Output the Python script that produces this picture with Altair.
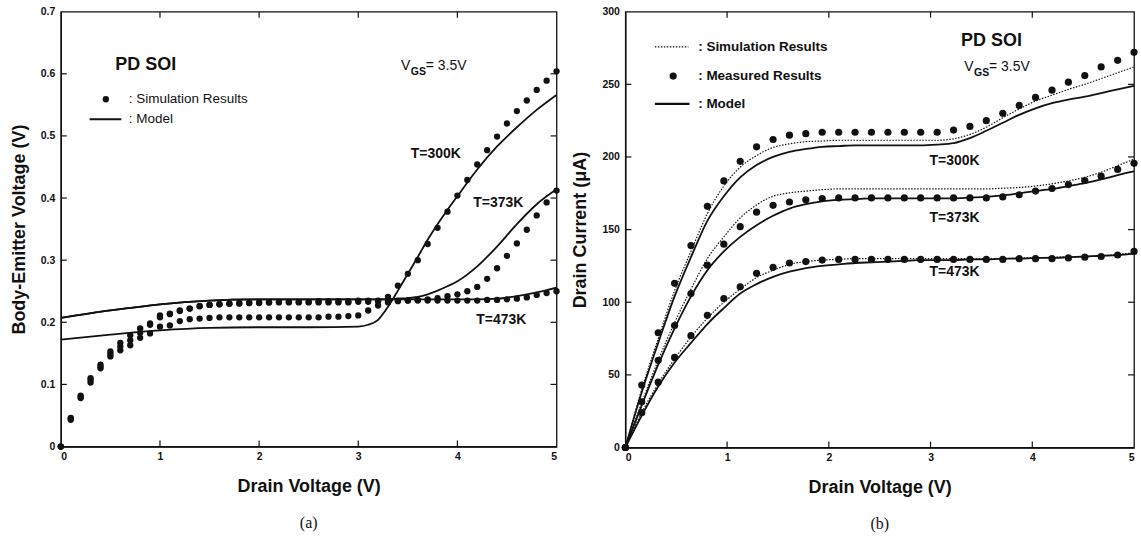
import altair as alt
import pandas as pd

# ---------------- panel (a): body-emitter voltage ----------------
a_v = [0.0, 0.1, 0.2, 0.3, 0.4, 0.5, 0.6, 0.7, 0.8, 0.9,
       1.0, 1.1, 1.2, 1.3, 1.4, 1.5, 1.6, 1.7, 1.8, 1.9,
       2.0, 2.1, 2.2, 2.3, 2.4, 2.5, 2.6, 2.7, 2.8, 2.9,
       3.0, 3.1, 3.2, 3.3, 3.4, 3.5, 3.6, 3.7, 3.8, 3.9,
       4.0, 4.1, 4.2, 4.3, 4.4, 4.5, 4.6, 4.7, 4.8, 4.9, 5.0]
a_sim_300 = [0.0, 0.046, 0.082, 0.110, 0.132, 0.153, 0.167, 0.179, 0.190, 0.198,
             0.211, 0.214, 0.219, 0.222, 0.226, 0.228,
             0.229, 0.230, 0.230, 0.231, 0.231, 0.232, 0.232, 0.232, 0.232, 0.232,
             0.232, 0.232, 0.232, 0.232, 0.233, 0.233, 0.234,
             0.241, 0.259, 0.278, 0.300, 0.326, 0.352, 0.378, 0.404, 0.429, 0.454,
             0.477, 0.499, 0.520, 0.540, 0.557, 0.574, 0.589, 0.604]
a_sim_373 = [0.0, 0.043, 0.078, 0.103, 0.126, 0.145, 0.155, 0.163, 0.175, 0.182,
             0.193, 0.195, 0.202, 0.205, 0.206, 0.207,
             0.208, 0.208, 0.208, 0.208, 0.208, 0.208, 0.208, 0.208, 0.208, 0.208,
             0.208, 0.209, 0.209, 0.210, 0.211,
             0.219, 0.227, 0.232, 0.234, 0.235, 0.236, 0.237, 0.239, 0.242, 0.245,
             0.250, 0.257, 0.270, 0.287, 0.307, 0.327, 0.349, 0.372, 0.393, 0.412]
a_sim_473 = [0.0, 0.045, 0.080, 0.107, 0.129, 0.149, 0.161, 0.171, 0.183, 0.196,
             0.208, 0.213, 0.218, 0.222, 0.226, 0.228,
             0.229, 0.230, 0.231, 0.231, 0.232, 0.232, 0.233, 0.233, 0.233, 0.233,
             0.234, 0.234, 0.234, 0.234, 0.235, 0.235, 0.235,
             0.235, 0.235, 0.235, 0.235, 0.235, 0.235, 0.235, 0.235,
             0.235, 0.235, 0.236, 0.236, 0.237, 0.238, 0.240, 0.244, 0.247, 0.250]
a_model_v = [0.0, 0.5, 1.0, 1.5, 2.0, 2.5, 3.0, 3.1, 3.2, 3.3, 3.4, 3.5,
             3.6, 3.7, 3.8, 3.9, 4.0, 4.2, 4.4, 4.6, 4.8, 5.0]
a_model_300 = [0.172, 0.180, 0.187, 0.191, 0.192, 0.192, 0.193, 0.196, 0.204, 0.225, 0.251,
               0.278, 0.305, 0.333, 0.358, 0.381, 0.403, 0.446, 0.483, 0.514, 0.542, 0.566]
a_model_373 = [0.207, 0.219, 0.229, 0.235, 0.237, 0.237, 0.237, 0.237, 0.237, 0.237, 0.238,
               0.239, 0.241, 0.245, 0.251, 0.258, 0.266, 0.290, 0.322, 0.358, 0.390, 0.414]
a_model_473 = [0.207, 0.219, 0.229, 0.235, 0.237, 0.237, 0.237, 0.237, 0.237, 0.237, 0.237,
               0.237, 0.237, 0.237, 0.237, 0.237, 0.237, 0.237, 0.238, 0.242, 0.248, 0.256]

# ---------------- panel (b): drain current ----------------
b_v = [0.0, 0.161, 0.323, 0.484, 0.645, 0.806, 0.968, 1.129, 1.290, 1.452, 1.613,
       1.774, 1.935, 2.097, 2.258, 2.419, 2.581, 2.742, 2.903, 3.065, 3.226, 3.387,
       3.548, 3.710, 3.871, 4.032, 4.194, 4.355, 4.516, 4.677, 4.839, 5.0]
b_meas_300 = [0, 43, 79, 113, 139, 166, 183.5, 197, 207, 212, 215, 216, 217, 217, 217, 217,
              217, 217, 217, 217, 218.5, 221, 225, 230, 235.5, 241, 246, 251.5, 256, 262, 266.5, 272]
b_sim_300 = [0, 40, 75, 108, 135, 161, 180, 193, 201, 206.5, 209, 210.5, 211, 211.5, 211.5, 211.5,
             211.5, 211.5, 211.5, 211.5, 212.5, 215.5, 220.5, 227, 233, 238.5, 242.5, 246.5, 250, 254, 258, 262]
b_model_300 = [0, 38, 72, 104, 131, 156, 173, 186, 194.5, 200, 203.5, 205.5, 207, 207.5, 208, 208,
               208, 208, 208, 208.5, 209.5, 213, 218, 223.5, 229, 233.5, 237, 239.5, 241.5, 244, 246.5, 249]
b_meas_373 = [0, 31.5, 60, 84, 106, 125.5, 140, 152, 162, 166.7, 169, 170.5, 171.4, 171.8, 171.8, 171.8,
              171.8, 171.8, 171.8, 171.8, 171.8, 171.8, 171.8, 172.5, 174, 176.5, 178.3, 181, 183.8, 186.8, 191.4, 195.6]
b_sim_373 = [0, 31, 60, 86, 109, 130, 145, 158, 167, 173, 175.3, 176.5, 177.5, 178, 178, 178,
             178, 178, 178, 178, 178, 178, 178, 178.5, 179, 180, 181.5, 183.5, 186, 189.5, 194, 198.5]
b_model_373 = [0, 29, 57, 82, 104, 122, 135, 145, 153, 159.5, 164.5, 167.5, 169.5, 170.5, 171, 171.5,
               171.5, 171.5, 171.5, 171.5, 171.5, 172, 172.5, 173.5, 175, 176.5, 178, 180, 182, 184.5, 187.5, 190]
b_meas_473 = [0, 24, 45, 62, 77, 91, 102.5, 110.6, 119.9, 124, 127, 128, 129, 129.5, 129.5, 129.5,
              129.5, 129.5, 129.5, 129.5, 129.5, 129.5, 129.5, 129.5, 130, 130, 130, 130.5, 131, 131.5, 132.5, 135]
b_sim_473 = [0, 24, 44, 61, 76, 89, 100, 109, 117, 122, 126, 128, 129, 129.5, 130, 130,
             130, 130, 130, 130, 130, 130, 130, 130, 130.5, 130.5, 131, 131, 131.5, 132, 133, 134]
b_model_473 = [0, 22, 42, 58.5, 72, 85, 96, 106, 112.5, 117.5, 121, 123.5, 125, 126, 127, 127.5,
               128, 128.5, 129, 129, 129, 129.5, 129.5, 130, 130, 130.5, 130.5, 131, 131.5, 132, 132.5, 133.5]

a_xticks = [1, 2, 3, 4]
a_yticks = [0.1, 0.2, 0.3, 0.4, 0.5, 0.6]
b_yticks = [50, 100, 150, 200, 250]

SANS = "Liberation Sans"
SERIF = "Liberation Serif"
INK = "#111111"

def long(xs, series):
    rows = []
    for name, ys in series.items():
        for x, y in zip(xs, ys):
            rows.append({"x": x, "y": y, "s": name})
    return pd.DataFrame(rows)

a_dots = long(a_v, {"300": a_sim_300, "373": a_sim_373, "473": a_sim_473})
a_lines = long(a_model_v, {"300": a_model_300, "373": a_model_373, "473": a_model_473})
b_dots = long(b_v, {"300": b_meas_300, "373": b_meas_373, "473": b_meas_473})
b_sims = long(b_v, {"300": b_sim_300, "373": b_sim_373, "473": b_sim_473})
b_lines = long(b_v, {"300": b_model_300, "373": b_model_373, "473": b_model_473})

AW, AH = 497, 436
BW, BH = 510, 437

def panel(dots, lines, sims, xdom, ydom, yticks, ytitle, yfmt, W, H, dot_size, texts, legend_rules,
          legend_dots, caption):
    xs = alt.Scale(domain=xdom, nice=False, zero=False)
    ys = alt.Scale(domain=ydom, nice=False, zero=False)
    xax = alt.Axis(values=[0, 1, 2, 3, 4, 5], title="Drain Voltage (V)", ticks=False, grid=False,
                   format="d",
                   labelFont=SANS, labelFontSize=10.5, labelFontWeight="bold", labelColor=INK,
                   labelPadding=5, titleFont=SANS, titleFontSize=18, titleFontWeight="bold",
                   titleColor=INK, titlePadding=16, domainColor=INK, domainWidth=1.3)
    yax = alt.Axis(values=[ydom[0]] + yticks + [ydom[1]], title=ytitle, ticks=False, grid=False,
                   labelExpr=yfmt, labelFont=SANS, labelFontSize=10.5, labelFontWeight="bold",
                   labelColor=INK, labelPadding=6, titleFont=SANS, titleFontSize=18,
                   titleFontWeight="bold", titleColor=INK, titlePadding=12,
                   domainColor=INK, domainWidth=1.3)
    base_x = alt.X("x:Q", scale=xs, axis=xax)
    base_y = alt.Y("y:Q", scale=ys, axis=yax)
    layers = []
    layers.append(alt.Chart(lines).mark_line(color=INK, strokeWidth=1.8, interpolate="monotone")
                  .encode(x=base_x, y=base_y, detail="s:N"))
    if sims is not None:
        layers.append(alt.Chart(sims).mark_line(color=INK, strokeWidth=1.2, strokeDash=[1.5, 1.5],
                                                 interpolate="monotone")
                      .encode(x="x:Q", y="y:Q", detail="s:N"))
    layers.append(alt.Chart(dots).mark_circle(color=INK, opacity=1, size=dot_size)
                  .encode(x="x:Q", y="y:Q"))
    # inner ticks
    xt = pd.DataFrame({"t": a_xticks})
    yt = pd.DataFrame({"t": yticks})
    layers.append(alt.Chart(xt).mark_rule(color=INK, strokeWidth=1.2)
                  .encode(x="t:Q", y=alt.value(H), y2=alt.value(H - 6)))
    layers.append(alt.Chart(xt).mark_rule(color=INK, strokeWidth=1.2)
                  .encode(x="t:Q", y=alt.value(0), y2=alt.value(6)))
    layers.append(alt.Chart(yt).mark_rule(color=INK, strokeWidth=1.2)
                  .encode(y="t:Q", x=alt.value(0), x2=alt.value(6)))
    layers.append(alt.Chart(yt).mark_rule(color=INK, strokeWidth=1.2)
                  .encode(y="t:Q", x=alt.value(W), x2=alt.value(W - 6)))
    # legend glyphs
    for r in legend_rules:
        df = pd.DataFrame([r])
        kw = dict(color=INK, strokeWidth=r.get("w", 1.8))
        if r.get("dash"):
            kw["strokeDash"] = [1.5, 1.5]
        layers.append(alt.Chart(df).mark_rule(**kw).encode(x="x:Q", x2="x2:Q", y="y:Q"))
    if legend_dots:
        layers.append(alt.Chart(pd.DataFrame(legend_dots)).mark_circle(color=INK, opacity=1,
                                                                        size=dot_size)
                      .encode(x="x:Q", y="y:Q"))
    for t in texts:
        df = pd.DataFrame([t])
        layers.append(alt.Chart(df).mark_text(font=SANS, fontSize=t["size"],
                                              fontWeight=t.get("weight", "normal"), color=INK,
                                              align="left", baseline="middle",
                                              dx=t.get("dx", 0), dy=t.get("dy", 0))
                      .encode(x="x:Q", y="y:Q", text="text:N"))
    return alt.layer(*layers).properties(
        width=W, height=H,
        title=alt.TitleParams(caption, orient="bottom", font=SERIF, fontSize=16,
                              fontWeight="normal", color=INK, offset=19))

a_texts = [
    {"x": 0.55, "y": 0.614, "text": "PD SOI", "size": 18, "weight": "bold"},
    {"x": 0.685, "y": 0.559, "text": ": Simulation Results", "size": 13.5},
    {"x": 0.685, "y": 0.527, "text": ": Model", "size": 13.5},
    {"x": 3.43, "y": 0.612, "text": "V", "size": 14},
    {"x": 3.43, "y": 0.612, "text": "GS", "size": 10.5, "weight": "bold", "dx": 10, "dy": 6},
    {"x": 3.43, "y": 0.612, "text": "= 3.5V", "size": 14, "dx": 25},
    {"x": 3.53, "y": 0.471, "text": "T=300K", "size": 14, "weight": "bold"},
    {"x": 4.16, "y": 0.392, "text": "T=373K", "size": 14, "weight": "bold"},
    {"x": 4.19, "y": 0.203, "text": "T=473K", "size": 14, "weight": "bold"},
]
a_rules = [{"x": 0.29, "x2": 0.61, "y": 0.527, "w": 2}]
a_ldots = [{"x": 0.454, "y": 0.559}]

b_texts = [
    {"x": 3.30, "y": 280, "text": "PD SOI", "size": 18, "weight": "bold"},
    {"x": 0.716, "y": 275.8, "text": ": Simulation Results", "size": 13.5, "weight": "bold"},
    {"x": 0.716, "y": 255.7, "text": ": Measured Results", "size": 13.5, "weight": "bold"},
    {"x": 0.716, "y": 236.5, "text": ": Model", "size": 13.5, "weight": "bold"},
    {"x": 3.33, "y": 262, "text": "V", "size": 14},
    {"x": 3.33, "y": 262, "text": "GS", "size": 10.5, "weight": "bold", "dx": 10, "dy": 6},
    {"x": 3.33, "y": 262, "text": "= 3.5V", "size": 14, "dx": 25},
    {"x": 2.99, "y": 197.5, "text": "T=300K", "size": 14, "weight": "bold"},
    {"x": 2.99, "y": 158, "text": "T=373K", "size": 14, "weight": "bold"},
    {"x": 2.99, "y": 121, "text": "T=473K", "size": 14, "weight": "bold"},
]
b_rules = [{"x": 0.29, "x2": 0.62, "y": 275.8, "w": 1.2, "dash": True},
           {"x": 0.29, "x2": 0.63, "y": 236.5, "w": 2.2}]
b_ldots = [{"x": 0.47, "y": 255.7}]

left = panel(a_dots, a_lines, None, [0, 5], [0, 0.7], a_yticks, "Body-Emitter Voltage (V)",
             "datum.value == 0 ? '0' : format(datum.value, '.1f')", AW, AH, 40,
             a_texts, a_rules, a_ldots, "(a)")
right = panel(b_dots, b_lines, b_sims, [0, 5], [0, 300], b_yticks, "Drain Current (\u03bcA)",
              "format(datum.value, 'd')", BW, BH, 52, b_texts, b_rules, b_ldots, "(b)")

chart = alt.hconcat(left, right, spacing=9).resolve_scale(x="independent", y="independent") \
    .configure_view(stroke=INK, strokeWidth=1.3) \
    .properties(padding={"left": 9, "top": 5, "right": 2, "bottom": 2}, background="white")

chart.save("out.html", embed_options={"renderer": "svg", "actions": False})
